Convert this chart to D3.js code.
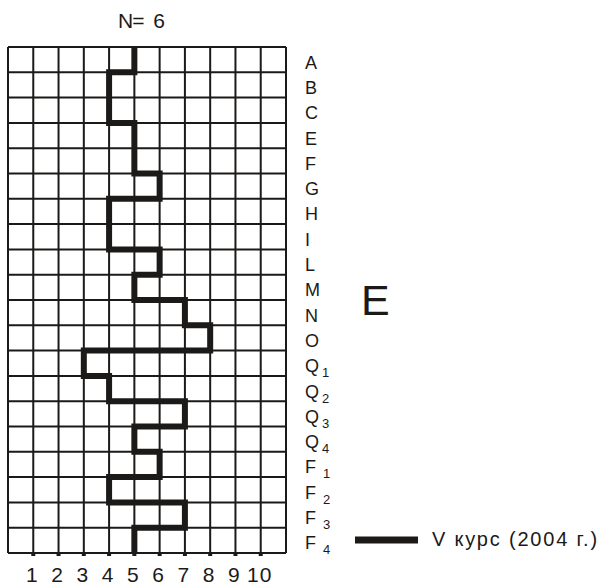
<!DOCTYPE html>
<html>
<head>
<meta charset="utf-8">
<script src="https://cdn.jsdelivr.net/npm/d3@7"></script>
<style>
  html, body { margin: 0; padding: 0; background: #fff; }
  svg { display: block; font-family: "Liberation Sans", Arial, sans-serif; }
</style>
</head>
<body>
<svg id="chart" width="604" height="585"></svg>
<script>
// ---- data ----
const factors = ["A","B","C","E","F","G","H","I","L","M","N","O","Q1","Q2","Q3","Q4","F1","F2","F3","F4"];
const values  = [5, 4, 4, 5, 5, 6, 4, 4, 6, 5, 7, 8, 3, 4, 7, 5, 6, 4, 7, 5];
const ticks   = [1, 2, 3, 4, 5, 6, 7, 8, 9, 10];
const titleLead = "N=";
const titleValue = "6";
const scaleLabel = "E";
const seriesName = "V курс (2004 г.)";

// ---- layout ----
const svg = d3.select("#chart");
const gLeft = 8, gRight = 286, gTop = 47, gBottom = 553;
const ink = "#1c1a18";

const x = d3.scaleLinear().domain([0, 11]).range([gLeft, gRight]);
const y = d3.scaleLinear().domain([0, factors.length]).range([gTop, gBottom]);

// grid
const grid = svg.append("g").attr("stroke", ink).attr("stroke-width", 2);
grid.selectAll("line.v").data(d3.range(0, 12)).join("line")
  .attr("class", "v")
  .attr("x1", d => x(d)).attr("x2", d => x(d))
  .attr("y1", gTop).attr("y2", gBottom);
grid.selectAll("line.h").data(d3.range(0, factors.length + 1)).join("line")
  .attr("class", "h")
  .attr("x1", gLeft).attr("x2", gRight)
  .attr("y1", d => y(d)).attr("y2", d => y(d));

// tick squares on bottom line
svg.append("g").selectAll("rect").data(ticks).join("rect")
  .attr("x", d => x(d) - 2).attr("y", gBottom - 1)
  .attr("width", 4).attr("height", 4).attr("fill", ink);

// tick labels
svg.append("g").selectAll("text").data(ticks).join("text")
  .attr("x", d => x(d) - 1).attr("y", 582)
  .attr("text-anchor", "middle")
  .attr("font-size", 21).attr("letter-spacing", 1).attr("fill", ink)
  .text(d => d);

// profile (step path)
const pts = [];
values.forEach((v, i) => {
  pts.push([x(v), y(i)]);
  pts.push([x(v), y(i + 1)]);
});
svg.append("path")
  .attr("d", d3.line()(pts))
  .attr("fill", "none").attr("stroke", ink)
  .attr("stroke-width", 6).attr("stroke-linejoin", "miter").attr("stroke-linecap", "butt");

// row labels with subscripts
const lab = svg.append("g").attr("fill", ink).attr("font-size", 18);
factors.forEach((f, i) => {
  const t = lab.append("text")
    .attr("x", 305).attr("y", y(i + 0.5) + 3)
    .attr("dominant-baseline", "central");
  const base = f[0], sub = f.slice(1);
  t.append("tspan").text(base);
  if (sub) {
    t.append("tspan").attr("font-size", 13)
      .attr("dx", base === "F" ? 7 : 3).attr("dy", 6).text(sub);
  }
});

// title
const tt = svg.append("text").attr("x", 118).attr("y", 28)
  .attr("font-size", 21).attr("fill", ink);
tt.append("tspan").attr("letter-spacing", -1).text(titleLead);
tt.append("tspan").attr("dx", 4).text(" " + titleValue);

// scale letter
svg.append("text").attr("x", 361).attr("y", 315)
  .attr("font-size", 43).attr("fill", ink)
  .text(scaleLabel);

// legend
svg.append("line").attr("x1", 355).attr("x2", 418)
  .attr("y1", 540).attr("y2", 540)
  .attr("stroke", ink).attr("stroke-width", 7);
svg.append("text").attr("x", 432).attr("y", 546)
  .attr("font-size", 20).attr("letter-spacing", 1.8).attr("fill", ink)
  .text(seriesName);
</script>
</body>
</html>
